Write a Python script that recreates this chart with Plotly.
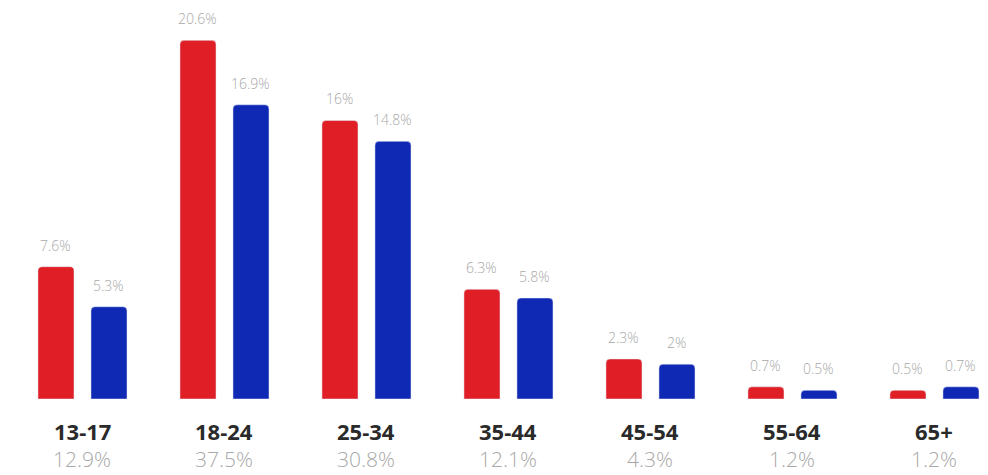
import plotly.graph_objects as go

categories = ["13-17", "18-24", "25-34", "35-44", "45-54", "55-64", "65+"]
red_values = [7.6, 20.6, 16.0, 6.3, 2.3, 0.7, 0.5]
blue_values = [5.3, 16.9, 14.8, 5.8, 2.0, 0.5, 0.7]
red_labels = ["7.6%", "20.6%", "16%", "6.3%", "2.3%", "0.7%", "0.5%"]
blue_labels = ["5.3%", "16.9%", "14.8%", "5.8%", "2%", "0.5%", "0.7%"]
totals = ["12.9%", "37.5%", "30.8%", "12.1%", "4.3%", "1.2%", "1.2%"]

RED = "#E01E26"
BLUE = "#1029B5"
GRAY = "#a8a8a8"
FONT = "Open Sans"
BAR_OFFSET = 0.1866  # half distance between paired bar centres, in category units

x = list(range(len(categories)))

fig = go.Figure()
fig.add_trace(go.Bar(x=x, y=red_values, marker_color=RED, hoverinfo="skip"))
fig.add_trace(go.Bar(x=x, y=blue_values, marker_color=BLUE, hoverinfo="skip"))

label_font = dict(family=FONT, size=14, color=GRAY, weight=300)
for i in x:
    fig.add_annotation(x=i - BAR_OFFSET, y=red_values[i], text=red_labels[i],
                       showarrow=False, yanchor="bottom", yshift=10, font=label_font)
    fig.add_annotation(x=i + BAR_OFFSET, y=blue_values[i], text=blue_labels[i],
                       showarrow=False, yanchor="bottom", yshift=10, font=label_font)

for i, (c, t) in enumerate(zip(categories, totals)):
    fig.add_annotation(x=i, y=0, xref="x", yref="paper", text=c, showarrow=False,
                       yanchor="middle", yshift=-32,
                       font=dict(family=FONT, size=22, color="#2a2a2a", weight=700))
    fig.add_annotation(x=i, y=0, xref="x", yref="paper", text=t, showarrow=False,
                       yanchor="middle", yshift=-60,
                       font=dict(family=FONT, size=21, color=GRAY, weight=300))

fig.update_layout(
    width=980, height=467,
    margin=dict(l=0, r=0, t=8, b=76),
    barmode="group", bargap=0.2535, bargroupgap=0.32,
    barcornerradius=4,
    showlegend=False,
    plot_bgcolor="white", paper_bgcolor="white",
    xaxis=dict(range=[-0.5246, 6.377], showticklabels=False, showgrid=False,
               zeroline=False, showline=False, ticks=""),
    yaxis=dict(range=[0, 22], visible=False, showgrid=False, zeroline=False),
)

fig.write_html("out.html")
